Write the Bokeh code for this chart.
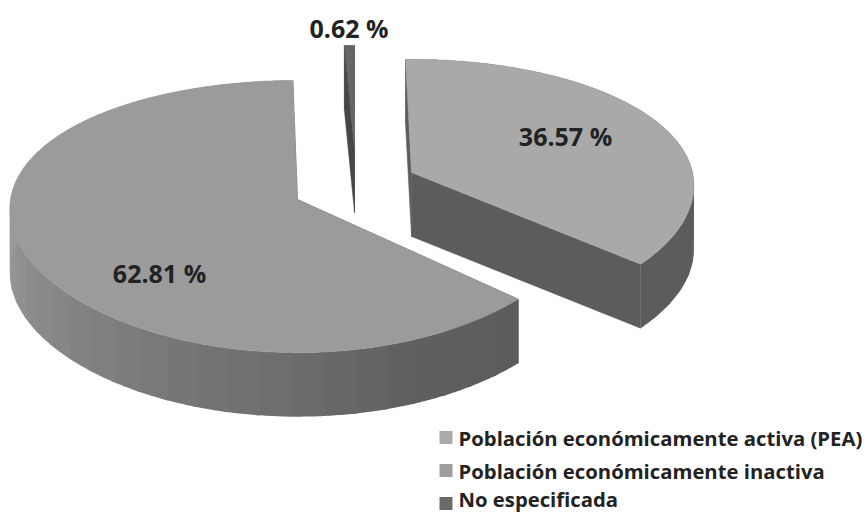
import numpy as np
from bokeh.plotting import figure
from bokeh.embed import file_html
from bokeh.resources import INLINE
from bokeh.core.properties import value

categories = ["Población económicamente activa (PEA)", "Población económicamente inactiva", "No especificada"]
shares = [36.57, 62.81, 0.62]
share_labels = ["36.57 %", "62.81 %", "0.62 %"]

W, H = 867, 512
p = figure(width=W, height=H, x_range=(0, W), y_range=(H, 0), output_backend="svg",
           toolbar_location=None, min_border=0, outline_line_color=None, background_fill_color="white")
p.axis.visible = False
p.grid.visible = False

DEPTH = 64


def proj(c, rx, b, deg, ax, ay):
    t = np.radians(deg)
    u, v = np.sin(t), -np.cos(t)
    return c[0] + rx * u / (1 - ax * v), c[1] + b * v / (1 - ay * v)


def grey(g):
    g = int(round(g))
    return f"#{g:02x}{g:02x}{g:02x}"


def slice3d(c, rx, b, start, sweep, top, face, wall_stops, ax=0.07, ay=0.125, band=6):
    # fine outline of the arc, grouped in bands of shading
    n = max(2, int(abs(sweep) / 0.5))
    ang = np.linspace(start, start + sweep, n + 1)
    x, y = proj(c, rx, b, ang, ax, ay)
    for i in (0, -1):
        p.patch([c[0], x[i], x[i], c[0]], [c[1], y[i], y[i] + DEPTH, c[1] + DEPTH],
                fill_color=face, line_color=face, line_width=0.5)
    per = max(1, int(band / 0.5))
    for i in range(0, n, per):
        j = min(n, i + per + 2)
        mid = 0.5 * (ang[i] + ang[min(n, i + per)])
        col = grey(np.interp(mid, wall_stops[0], wall_stops[1]))
        xs = list(x[i:j + 1]) + list(x[i:j + 1][::-1])
        ys = list(y[i:j + 1]) + list((y[i:j + 1] + DEPTH)[::-1])
        p.patch(xs, ys, fill_color=col, line_color=None)
    p.patch(list(x) + [c[0]], list(y) + [c[1]], fill_color=top, line_color=top, line_width=0.5)


deg = [s * 3.6 for s in shares]

# sliver (No especificada)
slice3d((354, 148), 280, 116, -deg[2], deg[2], "#666666", "#464646", ([-5, 5], [70, 70]))
# PEA
slice3d((411, 172), 281, 129, -1.35, deg[0], "#a9a9a9", "#5c5c5c", ([0, 200], [92, 92]), ax=0.10, ay=0.14)
# inactive
end = -1.0
slice3d((297, 199), 287, 134, end - deg[1], deg[1], "#9b9b9b", "#5c5c5c",
        ([-227, -200, -180, -150, -120, -100, -85, 0], [92, 96, 108, 122, 138, 150, 155, 155]))

lab_x = [565, 159, 348.5]
lab_y = [135, 272, 27]
p.text(lab_x, lab_y, text=share_labels, text_font=value("Open Sans"), text_font_style="bold",
       text_font_size="25px", text_color="#222222", text_align="center", text_baseline="middle")

leg_colors = ["#aaaaaa", "#9e9e9e", "#6a6a6a"]
p.scatter([445.5] * 3, [437, 470, 503], size=13, marker="square", fill_color=leg_colors, line_color=None)
p.text([458] * 3, [437, 470, 498.5], text=categories, text_font=value("Open Sans"), text_font_style="bold",
       text_font_size="20.3px", text_color="#222222", text_align="left", text_baseline="middle")

open("out.html", "w").write(file_html(p, INLINE))
